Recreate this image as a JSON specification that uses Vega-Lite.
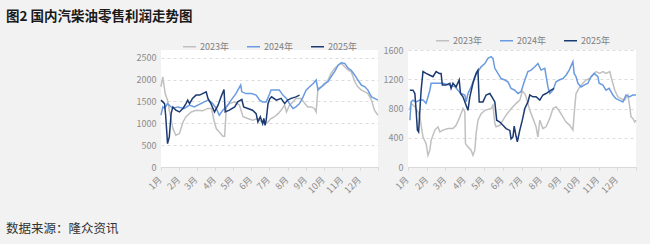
{
  "$schema": "https://vega.github.io/schema/vega-lite/v6.json",
  "background": "#f2f2f2",
  "padding": {"left": 6, "top": 9, "right": 20, "bottom": 15},
  "config": {
    "font": "Noto Sans CJK SC",
    "view": {"fill": "white", "stroke": null},
    "axis": {"labelFont": "Noto Sans CJK SC", "labelFontSize": 9, "labelColor": "#8c8c8c", "title": null},
    "legend": {"symbolType": "stroke", "symbolSize": 170, "symbolStrokeWidth": 2, "labelFontSize": 9, "labelColor": "#808080", "labelFont": "Noto Sans CJK SC", "columnPadding": 14, "labelOffset": 3, "padding": 0, "title": null, "layout": {"top": {"anchor": "middle"}}}
  },
  "title": {"text": "图2 国内汽柴油零售利润走势图", "anchor": "start", "fontSize": 13.5, "fontWeight": "bold", "color": "#1a1a1a", "dx": 0, "offset": 10, "font": "Noto Sans CJK SC"},
  "datasets": {
    "gas": [
      {"year":"2023年","day":1,"value":1835},{"year":"2023年","day":4,"value":2064},{"year":"2023年","day":8,"value":1680},{"year":"2023年","day":12,"value":1530},{"year":"2023年","day":15,"value":1300},{"year":"2023年","day":21,"value":880},{"year":"2023年","day":26,"value":726},{"year":"2023年","day":32,"value":765},{"year":"2023年","day":38,"value":1030},{"year":"2023年","day":43,"value":1150},{"year":"2023年","day":52,"value":1260},{"year":"2023年","day":60,"value":1300},{"year":"2023年","day":71,"value":1285},{"year":"2023年","day":80,"value":1340},{"year":"2023年","day":86,"value":1340},{"year":"2023年","day":90,"value":1070},{"year":"2023年","day":94,"value":880},{"year":"2023年","day":99,"value":800},{"year":"2023年","day":105,"value":705},{"year":"2023年","day":108,"value":705},{"year":"2023年","day":111,"value":1375},{"year":"2023年","day":116,"value":1450},{"year":"2023年","day":125,"value":1490},{"year":"2023年","day":133,"value":1415},{"year":"2023年","day":139,"value":1150},{"year":"2023年","day":147,"value":1110},{"year":"2023年","day":155,"value":1070},{"year":"2023年","day":164,"value":1110},{"year":"2023年","day":170,"value":1030},{"year":"2023年","day":178,"value":995},{"year":"2023年","day":181,"value":1030},{"year":"2023年","day":186,"value":1110},{"year":"2023年","day":192,"value":1150},{"year":"2023年","day":198,"value":1220},{"year":"2023年","day":203,"value":1300},{"year":"2023年","day":209,"value":1415},{"year":"2023年","day":212,"value":1260},{"year":"2023年","day":217,"value":1415},{"year":"2023年","day":223,"value":1490},{"year":"2023年","day":228,"value":1570},{"year":"2023年","day":237,"value":1570},{"year":"2023年","day":243,"value":1450},{"year":"2023年","day":248,"value":1375},{"year":"2023年","day":254,"value":1375},{"year":"2023年","day":259,"value":1340},{"year":"2023年","day":262,"value":1260},{"year":"2023年","day":265,"value":1800},{"year":"2023年","day":271,"value":1835},{"year":"2023年","day":276,"value":1875},{"year":"2023年","day":282,"value":1990},{"year":"2023年","day":287,"value":2140},{"year":"2023年","day":293,"value":2255},{"year":"2023年","day":299,"value":2330},{"year":"2023年","day":304,"value":2370},{"year":"2023年","day":310,"value":2295},{"year":"2023年","day":316,"value":2215},{"year":"2023年","day":321,"value":2180},{"year":"2023年","day":327,"value":1950},{"year":"2023年","day":332,"value":1835},{"year":"2023年","day":338,"value":1760},{"year":"2023年","day":344,"value":1720},{"year":"2023年","day":349,"value":1680},{"year":"2023年","day":355,"value":1530},{"year":"2023年","day":360,"value":1300},{"year":"2023年","day":366,"value":1185},
      {"year":"2024年","day":1,"value":1185},{"year":"2024年","day":4,"value":1375},{"year":"2024年","day":7,"value":1340},{"year":"2024年","day":12,"value":1450},{"year":"2024年","day":21,"value":1340},{"year":"2024年","day":29,"value":1375},{"year":"2024年","day":40,"value":1340},{"year":"2024年","day":49,"value":1415},{"year":"2024年","day":57,"value":1375},{"year":"2024年","day":68,"value":1450},{"year":"2024年","day":80,"value":1530},{"year":"2024年","day":88,"value":1450},{"year":"2024年","day":94,"value":1340},{"year":"2024年","day":99,"value":1185},{"year":"2024年","day":105,"value":1300},{"year":"2024年","day":111,"value":1375},{"year":"2024年","day":119,"value":1530},{"year":"2024年","day":127,"value":1680},{"year":"2024年","day":135,"value":1875},{"year":"2024年","day":137,"value":1720},{"year":"2024年","day":144,"value":1680},{"year":"2024年","day":153,"value":1680},{"year":"2024年","day":161,"value":1645},{"year":"2024年","day":167,"value":1530},{"year":"2024年","day":172,"value":1490},{"year":"2024年","day":178,"value":1490},{"year":"2024年","day":184,"value":1680},{"year":"2024年","day":186,"value":1760},{"year":"2024年","day":195,"value":1760},{"year":"2024年","day":200,"value":1760},{"year":"2024年","day":206,"value":1645},{"year":"2024年","day":212,"value":1570},{"year":"2024年","day":217,"value":1450},{"year":"2024年","day":223,"value":1340},{"year":"2024年","day":228,"value":1375},{"year":"2024年","day":234,"value":1450},{"year":"2024年","day":240,"value":1605},{"year":"2024年","day":245,"value":1760},{"year":"2024年","day":251,"value":1835},{"year":"2024年","day":257,"value":1910},{"year":"2024年","day":262,"value":1990},{"year":"2024年","day":265,"value":1760},{"year":"2024年","day":271,"value":1835},{"year":"2024年","day":276,"value":1910},{"year":"2024年","day":282,"value":1950},{"year":"2024年","day":287,"value":2065},{"year":"2024年","day":293,"value":2180},{"year":"2024年","day":299,"value":2330},{"year":"2024年","day":304,"value":2385},{"year":"2024年","day":310,"value":2370},{"year":"2024年","day":316,"value":2255},{"year":"2024年","day":321,"value":2215},{"year":"2024年","day":327,"value":2100},{"year":"2024年","day":332,"value":1990},{"year":"2024年","day":338,"value":1875},{"year":"2024年","day":344,"value":1835},{"year":"2024年","day":349,"value":1760},{"year":"2024年","day":355,"value":1605},{"year":"2024年","day":360,"value":1570},{"year":"2024年","day":366,"value":1530},
      {"year":"2025年","day":1,"value":1530},{"year":"2025年","day":7,"value":1450},{"year":"2025年","day":9,"value":1150},{"year":"2025年","day":12,"value":535},{"year":"2025年","day":15,"value":690},{"year":"2025年","day":18,"value":1220},{"year":"2025年","day":21,"value":1375},{"year":"2025年","day":26,"value":1300},{"year":"2025年","day":32,"value":1260},{"year":"2025年","day":38,"value":1340},{"year":"2025年","day":43,"value":1450},{"year":"2025年","day":46,"value":1530},{"year":"2025年","day":49,"value":1450},{"year":"2025年","day":54,"value":1570},{"year":"2025年","day":60,"value":1645},{"year":"2025年","day":66,"value":1645},{"year":"2025年","day":71,"value":1680},{"year":"2025年","day":77,"value":1720},{"year":"2025年","day":80,"value":1570},{"year":"2025年","day":85,"value":1450},{"year":"2025年","day":91,"value":1260},{"year":"2025年","day":97,"value":1415},{"year":"2025年","day":102,"value":1605},{"year":"2025年","day":107,"value":1775},{"year":"2025年","day":109,"value":1260},{"year":"2025年","day":116,"value":1300},{"year":"2025年","day":125,"value":1375},{"year":"2025年","day":130,"value":1490},{"year":"2025年","day":137,"value":1545},{"year":"2025年","day":140,"value":1375},{"year":"2025年","day":147,"value":1340},{"year":"2025年","day":155,"value":1300},{"year":"2025年","day":161,"value":1220},{"year":"2025年","day":164,"value":1030},{"year":"2025年","day":168,"value":1150},{"year":"2025年","day":172,"value":990},{"year":"2025年","day":174,"value":1110},{"year":"2025年","day":176,"value":955},{"year":"2025年","day":178,"value":1080},{"year":"2025年","day":181,"value":1450},{"year":"2025年","day":184,"value":1560},{"year":"2025年","day":187,"value":1605},{"year":"2025年","day":195,"value":1530},{"year":"2025年","day":203,"value":1570},{"year":"2025年","day":209,"value":1450},{"year":"2025年","day":214,"value":1530},{"year":"2025年","day":220,"value":1570},{"year":"2025年","day":228,"value":1605},{"year":"2025年","day":234,"value":1645}
    ],
    "diesel": [
      {"year":"2023年","day":3,"value":780},{"year":"2023年","day":6,"value":870},{"year":"2023年","day":12,"value":825},{"year":"2023年","day":17,"value":755},{"year":"2023年","day":20,"value":685},{"year":"2023年","day":25,"value":410},{"year":"2023年","day":30,"value":320},{"year":"2023年","day":33,"value":160},{"year":"2023年","day":36,"value":230},{"year":"2023年","day":38,"value":365},{"year":"2023年","day":44,"value":505},{"year":"2023年","day":49,"value":550},{"year":"2023年","day":52,"value":480},{"year":"2023年","day":57,"value":505},{"year":"2023年","day":65,"value":525},{"year":"2023年","day":73,"value":525},{"year":"2023年","day":78,"value":570},{"year":"2023年","day":84,"value":685},{"year":"2023年","day":89,"value":800},{"year":"2023年","day":92,"value":755},{"year":"2023年","day":93,"value":320},{"year":"2023年","day":97,"value":275},{"year":"2023年","day":102,"value":230},{"year":"2023年","day":105,"value":160},{"year":"2023年","day":108,"value":230},{"year":"2023年","day":110,"value":455},{"year":"2023年","day":113,"value":640},{"year":"2023年","day":118,"value":730},{"year":"2023年","day":124,"value":775},{"year":"2023年","day":134,"value":800},{"year":"2023年","day":137,"value":845},{"year":"2023年","day":140,"value":595},{"year":"2023年","day":142,"value":550},{"year":"2023年","day":148,"value":570},{"year":"2023年","day":153,"value":640},{"year":"2023年","day":158,"value":710},{"year":"2023年","day":164,"value":775},{"year":"2023年","day":169,"value":825},{"year":"2023年","day":174,"value":870},{"year":"2023年","day":180,"value":915},{"year":"2023年","day":184,"value":1040},{"year":"2023年","day":188,"value":1000},{"year":"2023年","day":190,"value":960},{"year":"2023年","day":196,"value":775},{"year":"2023年","day":201,"value":665},{"year":"2023年","day":206,"value":550},{"year":"2023年","day":209,"value":410},{"year":"2023年","day":212,"value":640},{"year":"2023年","day":217,"value":525},{"year":"2023年","day":222,"value":550},{"year":"2023年","day":228,"value":665},{"year":"2023年","day":233,"value":800},{"year":"2023年","day":238,"value":825},{"year":"2023年","day":244,"value":755},{"year":"2023年","day":249,"value":685},{"year":"2023年","day":254,"value":615},{"year":"2023年","day":260,"value":570},{"year":"2023年","day":265,"value":505},{"year":"2023年","day":268,"value":825},{"year":"2023年","day":270,"value":1005},{"year":"2023年","day":276,"value":1095},{"year":"2023年","day":281,"value":1145},{"year":"2023年","day":286,"value":1190},{"year":"2023年","day":292,"value":1210},{"year":"2023年","day":297,"value":1255},{"year":"2023年","day":302,"value":1305},{"year":"2023年","day":308,"value":1280},{"year":"2023年","day":313,"value":1305},{"year":"2023年","day":318,"value":1280},{"year":"2023年","day":324,"value":1305},{"year":"2023年","day":326,"value":1235},{"year":"2023年","day":332,"value":1050},{"year":"2023年","day":337,"value":960},{"year":"2023年","day":342,"value":935},{"year":"2023年","day":348,"value":915},{"year":"2023年","day":353,"value":985},{"year":"2023年","day":356,"value":825},{"year":"2023年","day":358,"value":685},{"year":"2023年","day":361,"value":665},{"year":"2023年","day":364,"value":615},{"year":"2023年","day":366,"value":640},
      {"year":"2024年","day":4,"value":640},{"year":"2024年","day":6,"value":890},{"year":"2024年","day":9,"value":915},{"year":"2024年","day":14,"value":890},{"year":"2024年","day":20,"value":915},{"year":"2024年","day":25,"value":915},{"year":"2024年","day":30,"value":870},{"year":"2024年","day":36,"value":1050},{"year":"2024年","day":38,"value":1145},{"year":"2024年","day":46,"value":1145},{"year":"2024年","day":57,"value":1145},{"year":"2024年","day":68,"value":1120},{"year":"2024年","day":76,"value":1100},{"year":"2024年","day":81,"value":1050},{"year":"2024年","day":86,"value":1005},{"year":"2024年","day":92,"value":985},{"year":"2024年","day":94,"value":890},{"year":"2024年","day":97,"value":1005},{"year":"2024年","day":102,"value":1095},{"year":"2024年","day":108,"value":1235},{"year":"2024年","day":113,"value":1305},{"year":"2024年","day":118,"value":1370},{"year":"2024年","day":124,"value":1415},{"year":"2024年","day":129,"value":1485},{"year":"2024年","day":134,"value":1510},{"year":"2024年","day":137,"value":1485},{"year":"2024年","day":140,"value":1350},{"year":"2024年","day":145,"value":1280},{"year":"2024年","day":150,"value":1210},{"year":"2024年","day":156,"value":1190},{"year":"2024年","day":161,"value":1165},{"year":"2024年","day":166,"value":1075},{"year":"2024年","day":172,"value":1050},{"year":"2024年","day":177,"value":1005},{"year":"2024年","day":182,"value":1030},{"year":"2024年","day":188,"value":1190},{"year":"2024年","day":193,"value":1305},{"year":"2024年","day":198,"value":1325},{"year":"2024年","day":204,"value":1370},{"year":"2024年","day":209,"value":1415},{"year":"2024年","day":214,"value":1325},{"year":"2024年","day":220,"value":1350},{"year":"2024年","day":225,"value":1095},{"year":"2024年","day":228,"value":1005},{"year":"2024年","day":233,"value":1050},{"year":"2024年","day":238,"value":1165},{"year":"2024年","day":243,"value":1190},{"year":"2024年","day":249,"value":1210},{"year":"2024年","day":254,"value":1255},{"year":"2024年","day":259,"value":1325},{"year":"2024年","day":265,"value":1440},{"year":"2024年","day":267,"value":1280},{"year":"2024年","day":270,"value":1235},{"year":"2024年","day":273,"value":1145},{"year":"2024年","day":278,"value":1095},{"year":"2024年","day":283,"value":1120},{"year":"2024年","day":289,"value":1145},{"year":"2024年","day":294,"value":1235},{"year":"2024年","day":299,"value":1280},{"year":"2024年","day":305,"value":1235},{"year":"2024年","day":307,"value":1145},{"year":"2024年","day":313,"value":1120},{"year":"2024年","day":318,"value":1050},{"year":"2024年","day":323,"value":1075},{"year":"2024年","day":329,"value":985},{"year":"2024年","day":334,"value":935},{"year":"2024年","day":339,"value":915},{"year":"2024年","day":345,"value":890},{"year":"2024年","day":350,"value":985},{"year":"2024年","day":355,"value":960},{"year":"2024年","day":361,"value":985},{"year":"2024年","day":366,"value":985},
      {"year":"2025年","day":4,"value":1050},{"year":"2025年","day":9,"value":1050},{"year":"2025年","day":12,"value":1005},{"year":"2025年","day":14,"value":775},{"year":"2025年","day":16,"value":505},{"year":"2025年","day":18,"value":480},{"year":"2025年","day":20,"value":775},{"year":"2025年","day":22,"value":1050},{"year":"2025年","day":25,"value":1305},{"year":"2025年","day":30,"value":1280},{"year":"2025年","day":36,"value":1255},{"year":"2025年","day":41,"value":1235},{"year":"2025年","day":46,"value":1305},{"year":"2025年","day":51,"value":1280},{"year":"2025年","day":54,"value":1280},{"year":"2025年","day":56,"value":1120},{"year":"2025年","day":62,"value":1120},{"year":"2025年","day":68,"value":1145},{"year":"2025年","day":70,"value":1075},{"year":"2025年","day":73,"value":1145},{"year":"2025年","day":78,"value":1095},{"year":"2025年","day":83,"value":1190},{"year":"2025年","day":85,"value":1005},{"year":"2025年","day":89,"value":960},{"year":"2025年","day":94,"value":845},{"year":"2025年","day":97,"value":775},{"year":"2025年","day":100,"value":960},{"year":"2025年","day":105,"value":1145},{"year":"2025年","day":110,"value":1280},{"year":"2025年","day":113,"value":1325},{"year":"2025年","day":115,"value":890},{"year":"2025年","day":121,"value":890},{"year":"2025年","day":126,"value":985},{"year":"2025年","day":132,"value":1005},{"year":"2025年","day":137,"value":935},{"year":"2025年","day":140,"value":890},{"year":"2025年","day":143,"value":640},{"year":"2025年","day":148,"value":615},{"year":"2025年","day":153,"value":570},{"year":"2025年","day":158,"value":525},{"year":"2025年","day":164,"value":500},{"year":"2025年","day":166,"value":385},{"year":"2025年","day":169,"value":410},{"year":"2025年","day":171,"value":560},{"year":"2025年","day":174,"value":420},{"year":"2025年","day":176,"value":345},{"year":"2025年","day":180,"value":505},{"year":"2025年","day":184,"value":640},{"year":"2025年","day":188,"value":800},{"year":"2025年","day":193,"value":890},{"year":"2025年","day":196,"value":985},{"year":"2025年","day":201,"value":960},{"year":"2025年","day":206,"value":960},{"year":"2025年","day":212,"value":915},{"year":"2025年","day":217,"value":985},{"year":"2025年","day":222,"value":1005},{"year":"2025年","day":230,"value":1050},{"year":"2025年","day":235,"value":1075}
    ]
  },
  "vconcat": [
    {
      "title": {"text": "数据来源：隆众资讯", "orient": "bottom", "anchor": "start", "fontSize": 12.5, "fontWeight": "normal", "color": "#333333", "dx": -130, "offset": 28, "font": "Noto Sans CJK SC"},
      "bounds": "flush",
      "spacing": 30,
      "hconcat": [
        {
          "data": {"name": "gas"},
          "width": 217,
          "height": 117,
          "mark": {"type": "line"},
          "encoding": {
            "x": {"field": "day", "type": "quantitative", "scale": {"domain": [1, 366], "nice": false, "zero": false},
              "axis": {"values": [1,32,61,92,122,153,183,214,245,275,306,336,366], "labelExpr": "datum.value >= 366 ? '' : (month(datetime(2024, 0, datum.value)) + 1) + '月'", "labelAngle": -45, "labelOffset": -4, "labelPadding": 5, "tickSize": 3, "domainColor": "#d9d9d9", "tickColor": "#d9d9d9", "grid": false, "labelOverlap": false, "labelBound": false, "labelFlush": false}},
            "y": {"field": "value", "type": "quantitative", "scale": {"domain": [0, 2677], "nice": false},
              "axis": {"values": [0,500,1000,1500,2000,2500], "format": "d", "grid": true, "gridDash": [3,3], "gridColor": "#dcdcdc", "domain": false, "ticks": false, "labelPadding": 5}},
            "color": {"field": "year", "type": "nominal", "scale": {"domain": ["2023年","2024年","2025年"], "range": ["#c0c0c0","#6a9be0","#1c3a72"]}, "legend": {"orient": "top", "direction": "horizontal", "offset": -2}},
            "strokeWidth": {"field": "year", "type": "nominal", "scale": {"domain": ["2023年","2024年","2025年"], "range": [1.5,1.5,2.2]}, "legend": {"orient": "top", "direction": "horizontal", "offset": -2}}
          }
        },
        {
          "data": {"name": "diesel"},
          "width": 228,
          "height": 117,
          "mark": {"type": "line"},
          "encoding": {
            "x": {"field": "day", "type": "quantitative", "scale": {"domain": [1, 366], "nice": false, "zero": false},
              "axis": {"values": [1,32,61,92,122,153,183,214,245,275,306,336,366], "labelExpr": "datum.value >= 366 ? '' : (month(datetime(2024, 0, datum.value)) + 1) + '月'", "labelAngle": -45, "labelOffset": -4, "labelPadding": 5, "tickSize": 3, "domainColor": "#d9d9d9", "tickColor": "#d9d9d9", "grid": false, "labelOverlap": false, "labelBound": false, "labelFlush": false}},
            "y": {"field": "value", "type": "quantitative", "scale": {"domain": [0, 1600], "nice": false},
              "axis": {"values": [0,400,800,1200,1600], "format": "d", "grid": true, "gridDash": [3,3], "gridColor": "#dcdcdc", "domain": false, "ticks": false, "labelPadding": 5}},
            "color": {"field": "year", "type": "nominal", "scale": {"domain": ["2023年","2024年","2025年"], "range": ["#c0c0c0","#6a9be0","#1c3a72"]}, "legend": {"orient": "top", "direction": "horizontal", "offset": 4}},
            "strokeWidth": {"field": "year", "type": "nominal", "scale": {"domain": ["2023年","2024年","2025年"], "range": [1.5,1.5,2.2]}, "legend": {"orient": "top", "direction": "horizontal", "offset": 4}}
          }
        }
      ],
      "resolve": {"scale": {"color": "independent", "strokeWidth": "independent", "y": "independent", "x": "independent"}, "legend": {"color": "independent", "strokeWidth": "independent"}}
    }
  ]
}
